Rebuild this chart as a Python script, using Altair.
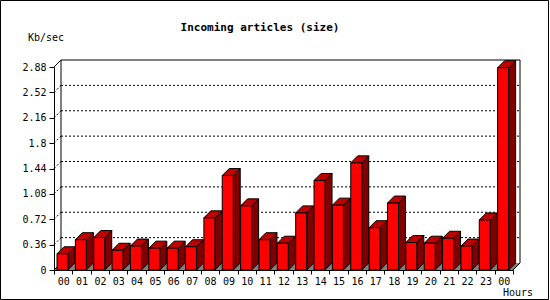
import json
import altair as alt
import pandas as pd

# ---- data ----
hours = ["00", "01", "02", "03", "04", "05", "06", "07", "08", "09", "10", "11",
         "12", "13", "14", "15", "16", "17", "18", "19", "20", "21", "22", "23", "00"]
values = [0.23, 0.43, 0.46, 0.28, 0.34, 0.31, 0.31, 0.33, 0.74, 1.34, 0.91, 0.43,
          0.38, 0.81, 1.27, 0.92, 1.52, 0.60, 0.95, 0.39, 0.38, 0.45, 0.34, 0.71, 2.87]
y_ticks = [0, 0.36, 0.72, 1.08, 1.44, 1.8, 2.16, 2.52, 2.88]
title_text = "Incoming articles (size)"
y_title = "Kb/sec"
x_title = "Hours"

# ---- geometry ----
W, H = 459, 203
n = len(values)
y_max = y_ticks[-1]
px_x = W / n
px_y = H / y_max
DEPTH = 7
dx = DEPTH / px_x
dy = DEPTH / px_y
off = 3 / px_x
bw = 11 / px_x

FONT = "DejaVu Sans Mono"
FRONT, TOP, SIDE, FLOOR = "#ff0000", "#c00000", "#800000", "#808080"

xs = alt.Scale(domain=[0, n], nice=False, zero=False)
ys = alt.Scale(domain=[0, y_max], nice=False, zero=False)

fronts = pd.DataFrame({
    "i": list(range(n)),
    "x": [i + off for i in range(n)],
    "x2": [i + off + bw for i in range(n)],
    "y": [0.0] * n,
    "v": values,
})

side_rows, top_rows = [], []
for i, v in enumerate(values):
    xa, xb = i + off, i + off + bw
    side_rows.append({"i": i, "x": xb, "y": 0.0, "y2": v})
    side_rows.append({"i": i, "x": xb + dx, "y": dy, "y2": v + dy})
    top_rows.append({"i": i, "y": v, "x": xa, "x2": xb})
    top_rows.append({"i": i, "y": v + dy, "x": xa + dx, "x2": xb + dx})
sides = pd.DataFrame(side_rows)
tops = pd.DataFrame(top_rows)

floor = pd.DataFrame({"y": [0.0, dy], "x": [0.0, dx], "x2": [float(n), n + dx]})

grid = pd.DataFrame({"y": [t + dy for t in y_ticks[1:-1]],
                     "x": [dx] * (len(y_ticks) - 2), "x2": [n + dx] * (len(y_ticks) - 2)})
conn = pd.DataFrame({"x": [0.0] * (len(y_ticks) - 2), "x2": [dx] * (len(y_ticks) - 2),
                     "y": y_ticks[1:-1], "y2": [t + dy for t in y_ticks[1:-1]]})
wall = pd.DataFrame({
    "x":  [dx, dx, n + dx, 0.0, 0.0, float(n)],
    "x2": [dx, n + dx, n + dx, dx, dx, n + dx],
    "y":  [dy, y_max + dy, dy, y_max, 0.0, 0.0],
    "y2": [y_max + dy, y_max + dy, y_max + dy, y_max + dy, dy, dy],
})

label_expr = json.dumps(hours) + "[datum.value] || ''"

x_axis = alt.Axis(values=list(range(n + 1)), labelExpr=label_expr, labelOffset=px_x / 2,
                  title=None, grid=False, tickSize=4, labelPadding=2, labelFont=FONT,
                  labelFontSize=10, labelColor="black", domainColor="black", tickColor="black",
                  labelFlush=False, labelOverlap=False, labelAngle=0)
y_axis = alt.Axis(values=y_ticks, format=".3~r", title=None, grid=False, tickSize=5,
                  labelPadding=3, labelFont=FONT, labelFontSize=10, labelColor="black",
                  domainColor="black", tickColor="black", labelFlush=False, labelOverlap=False)


def X(f, **kw):
    return alt.X(f, scale=xs, axis=x_axis, **kw)


def Y(f, **kw):
    return alt.Y(f, scale=ys, axis=y_axis, **kw)


floor_l = alt.Chart(floor).mark_area(orient="horizontal", color=FLOOR).encode(
    y=Y("y:Q", stack=None), x=X("x:Q", stack=None), x2="x2:Q")
grid_l = alt.Chart(grid).mark_rule(color="black", strokeDash=[2, 2], strokeWidth=1).encode(
    y=Y("y:Q"), x=X("x:Q"), x2="x2:Q")
conn_l = alt.Chart(conn).mark_rule(color="black", strokeDash=[2, 2], strokeWidth=1).encode(
    x=X("x:Q"), x2="x2:Q", y=Y("y:Q"), y2="y2:Q")
wall_l = alt.Chart(wall).mark_rule(color="black", strokeWidth=1).encode(
    x=X("x:Q"), x2="x2:Q", y=Y("y:Q"), y2="y2:Q")
side_l = alt.Chart(sides).mark_area(orient="vertical", color=SIDE, stroke="black",
                                   strokeWidth=1).encode(
    x=X("x:Q", stack=None), y=Y("y:Q", stack=None), y2="y2:Q", detail="i:N")
top_l = alt.Chart(tops).mark_area(orient="horizontal", color=TOP, stroke="black",
                                 strokeWidth=1).encode(
    y=Y("y:Q", stack=None), x=X("x:Q", stack=None), x2="x2:Q", detail="i:N")
front_l = alt.Chart(fronts).mark_rect(color=FRONT, stroke="black", strokeWidth=1).encode(
    x=X("x:Q"), x2="x2:Q", y=Y("y:Q"), y2="v:Q")

txt = pd.DataFrame({"t": [title_text]})
title_l = alt.Chart(txt).mark_text(font=FONT, fontSize=11, fontWeight="bold", align="center",
                                   baseline="alphabetic", color="black").encode(
    text="t:N", x=alt.value(206), y=alt.value(-36))
yt = pd.DataFrame({"t": [y_title]})
ytitle_l = alt.Chart(yt).mark_text(font=FONT, fontSize=10, align="left",
                                   baseline="alphabetic", color="black").encode(
    text="t:N", x=alt.value(-26), y=alt.value(-26))
xt = pd.DataFrame({"t": [x_title]})
xtitle_l = alt.Chart(xt).mark_text(font=FONT, fontSize=10, align="right",
                                   baseline="alphabetic", color="black").encode(
    text="t:N", x=alt.value(479), y=alt.value(H + 26))
border = pd.DataFrame({"t": [""]})
border_l = alt.Chart(border).mark_rect(filled=False, stroke="black", strokeWidth=1).encode(
    x=alt.value(-53.5), x2=alt.value(W + 36 - 0.5), y=alt.value(-66.5), y2=alt.value(H + 30 - 0.5))

chart = alt.layer(
    floor_l, grid_l, conn_l, wall_l, side_l, top_l, front_l,
    title_l, ytitle_l, xtitle_l, border_l,
).properties(
    width=W, height=H,
    autosize=alt.AutoSizeParams(type="none"),
    padding={"left": 54, "top": 67, "right": 550 - 54 - W, "bottom": 300 - 67 - H},
    background="white",
).configure_view(stroke=None)

chart.save("out.html", embed_options={"renderer": "svg", "actions": False})
